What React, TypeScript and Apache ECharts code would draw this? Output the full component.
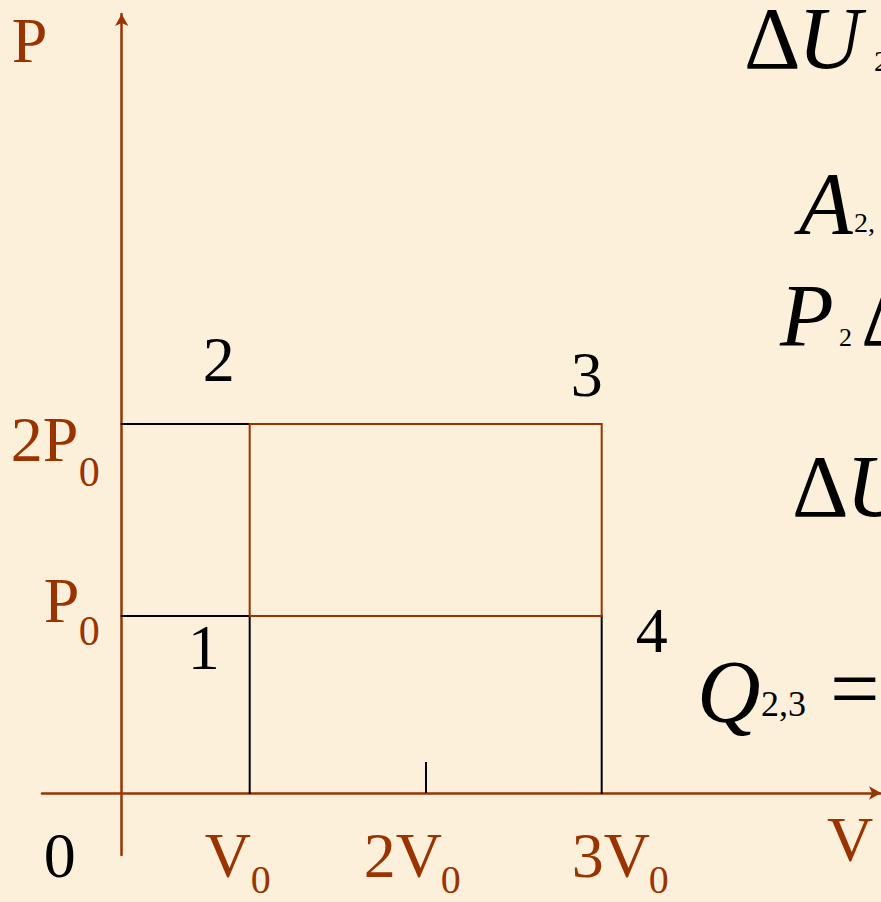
import React, { useEffect, useRef } from "react";
import * as echarts from "echarts";

// ---- data (schematic P–V diagram, units of V0 and P0) ----
const V_TICKS = [1, 2, 3];
const V_TICK_MAIN = ["V", "2V", "3V"];
const V_TICK_SUB = ["0", "0", "0"];
const MID_TICK_V = [2];
const P_TICKS = [1, 2];
const P_TICK_MAIN = ["P", "2P"];
const P_TICK_SUB = ["0", "0"];
const STATE_NAMES = ["1", "2", "3", "4"];
const STATE_V = [1, 1, 3, 3];
const STATE_P = [1, 2, 2, 1];
const CYCLE_ORDER = [1, 2, 3, 0, 1]; // 2 -> 3 -> 4 -> 1 -> 2

// axis ranges and where the two axes cross in this schematic
const X_MIN = -0.18;
const X_MAX = 4.587;
const Y_MIN = -0.245;
const Y_MAX = 4.135;
const CROSS_V = 0.2727;
const CROSS_P = 0.078;

// ---- styles ----
const W = 881;
const H = 902;
const BROWN = "#993300";
const BLACK = "#000000";
const SERIF = '"Liberation Serif", "Times New Roman", Times, serif';
const GRID = { left: 42, right: 0, top: 14, bottom: 47 };

function txt(text: string, x: number, y: number, size: number, fill: string, italic = false) {
  return {
    type: "text",
    x,
    y,
    silent: true,
    style: {
      text,
      fontSize: size,
      fontFamily: SERIF,
      fontStyle: italic ? "italic" : "normal",
      fill,
      align: "left",
      verticalAlign: "middle",
    },
  };
}

export default function App() {
  const ref = useRef<HTMLDivElement>(null);

  useEffect(() => {
    if (!ref.current) return;
    const chart = echarts.init(ref.current, undefined, { renderer: "svg" });

    const gridW = W - GRID.left - GRID.right;
    const gridH = H - GRID.top - GRID.bottom;
    const pxPerV = gridW / (X_MAX - X_MIN);
    const pxPerP = gridH / (Y_MAX - Y_MIN);
    const yAxisOffset = -(CROSS_V - X_MIN) * pxPerV;
    const xAxisOffset = -(CROSS_P - Y_MIN) * pxPerP;

    const lineSeries = (data: number[][], color: string, width: number, z = 2) => ({
      type: "line",
      data,
      showSymbol: false,
      symbol: "none",
      silent: true,
      z,
      lineStyle: { color, width, cap: "square", join: "miter" },
    });

    const s1 = 0, s2 = 1, s4 = 3;
    const guides = [
      [[CROSS_V, STATE_P[s2]], [STATE_V[s2], STATE_P[s2]]],
      [[CROSS_V, STATE_P[s1]], [STATE_V[s1], STATE_P[s1]]],
      [[STATE_V[s1], STATE_P[s1]], [STATE_V[s1], CROSS_P]],
      [[STATE_V[s4], STATE_P[s4]], [STATE_V[s4], CROSS_P]],
    ];
    const cycle = CYCLE_ORDER.map((i) => [STATE_V[i], STATE_P[i]]);

    chart.setOption({
      animation: false,
      backgroundColor: "#fcf0da",
      grid: { ...GRID, containLabel: false, outerBoundsMode: "none" },
      xAxis: {
        type: "value",
        min: X_MIN,
        max: X_MAX,
        position: "bottom",
        offset: xAxisOffset,
        axisLine: {
          onZero: false,
          symbol: ["none", "arrow"],
          symbolSize: [10, 12],
          lineStyle: { color: BROWN, width: 2.5 },
        },
        axisTick: {
          show: true,
          customValues: MID_TICK_V,
          inside: true,
          length: 31,
          lineStyle: { color: BLACK, width: 2 },
        },
        axisLabel: { show: false },
        splitLine: { show: false },
      },
      yAxis: {
        type: "value",
        min: Y_MIN,
        max: Y_MAX,
        position: "left",
        offset: yAxisOffset,
        axisLine: {
          onZero: false,
          symbol: ["none", "arrow"],
          symbolSize: [10, 12],
          lineStyle: { color: BROWN, width: 2.5 },
        },
        axisTick: { show: false },
        axisLabel: { show: false },
        splitLine: { show: false },
      },
      series: [
        ...guides.map((g) => lineSeries(g, BLACK, 2, 2)),
        lineSeries(cycle, BROWN, 2, 3),
      ],
    });

    const px = (v: number, p: number) =>
      chart.convertToPixel({ gridIndex: 0 }, [v, p]) as number[];
    const [axX, axY] = px(CROSS_V, CROSS_P);

    const graphics: any[] = [];
    // axis names and origin
    graphics.push(txt("P", axX - 110, 40, 64, BROWN));
    graphics.push(txt("V", 827, axY + 47, 64, BROWN));
    graphics.push(txt("0", axX - 78, axY + 63, 64, BLACK));

    // V tick labels
    const vMainDx = [-45, -62, -30];
    const vSubDx = [1, 15, 47];
    V_TICKS.forEach((v, i) => {
      const [tx] = px(v, CROSS_P);
      graphics.push(txt(V_TICK_MAIN[i], tx + vMainDx[i], axY + 63, 64, BROWN));
      graphics.push(txt(V_TICK_SUB[i], tx + vSubDx[i], axY + 87, 40, BROWN));
    });
    // P tick labels
    const pMainDx = [-78, -111];
    const pMainDy = [-15, 16];
    const pSubDy = [15, 48];
    P_TICKS.forEach((p, i) => {
      const [, ty] = px(CROSS_V, p);
      graphics.push(txt(P_TICK_MAIN[i], axX + pMainDx[i], ty + pMainDy[i], 64, BROWN));
      graphics.push(txt(P_TICK_SUB[i], axX - 43, ty + pSubDy[i], 42, BROWN));
    });
    // state numbers
    const sDx = [-62, -47, -31, 34];
    const sDy = [32, -64, -49, 15];
    STATE_NAMES.forEach((n, i) => {
      const [sx, sy] = px(STATE_V[i], STATE_P[i]);
      graphics.push(txt(n, sx + sDx[i], sy + sDy[i], 64, BLACK));
    });

    // formulas on the right (cut by the slide edge)
    graphics.push(txt("Δ", 744, 38, 88, BLACK));
    graphics.push(txt("U", 798, 38, 88, BLACK, true));
    graphics.push(txt("2", 874, 60, 30, BLACK));

    graphics.push(txt("A", 799, 203, 88, BLACK, true));
    graphics.push(txt("2,", 854, 222, 28, BLACK));

    graphics.push(txt("P", 780, 315, 88, BLACK, true));
    graphics.push(txt("2", 839, 337, 26, BLACK));
    graphics.push(txt("Δ", 861, 315, 88, BLACK));

    graphics.push(txt("Δ", 792, 486, 88, BLACK));
    graphics.push(txt("U", 846, 486, 88, BLACK, true));

    graphics.push(txt("Q", 697, 691, 88, BLACK, true));
    graphics.push(txt("2,3", 761, 704, 36, BLACK));
    graphics.push(txt("=", 830, 688, 88, BLACK));

    chart.setOption({ graphic: graphics });

    return () => chart.dispose();
  }, []);

  return (
    <div
      ref={ref}
      style={{ position: "absolute", left: 0, top: 0, width: W, height: H }}
    />
  );
}
